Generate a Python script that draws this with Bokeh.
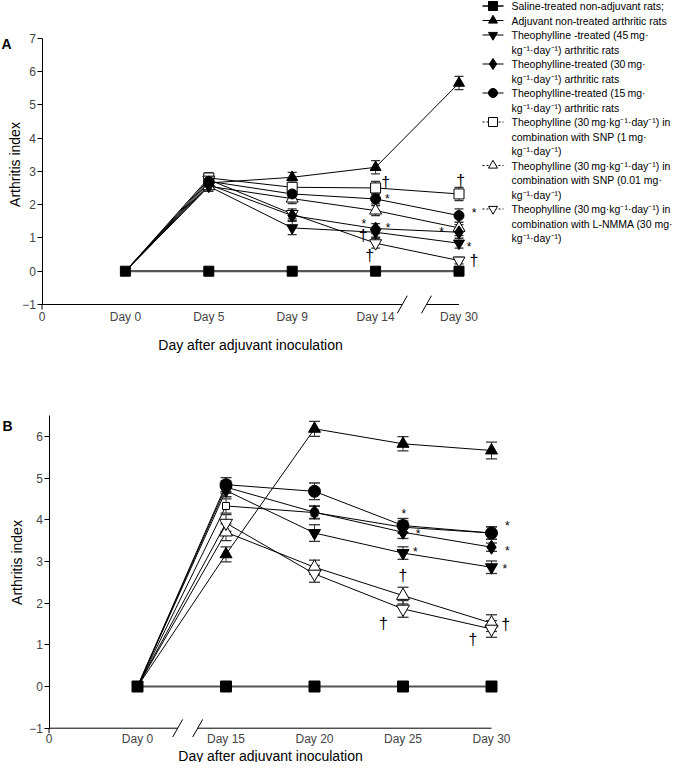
import math
from bokeh.plotting import figure
from bokeh.models import Range1d, FixedTicker
from bokeh.layouts import column
from bokeh.embed import file_html
from bokeh.resources import INLINE
from bokeh.core.properties import value

FONT = "Liberation Sans"

# ---------------- data: panel A ----------------
days_A = ["Day 0", "Day 5", "Day 9", "Day 14", "Day 30"]
saline_A = [0, 0, 0, 0, 0]
adjuvant_A = [0, 2.65, 2.82, 3.12, 5.65]
theo45_A = [0, 2.55, 1.30, 1.17, 0.84]
theo30_A = [0, 2.60, 1.67, 1.28, 1.17]
theo15_A = [0, 2.70, 2.32, 2.17, 1.67]
snp1_A = [0, 2.80, 2.52, 2.50, 2.32]
snp001_A = [0, 2.55, 2.18, 1.82, 1.30]
lnmma_A = [0, 2.75, 1.72, 0.84, 0.32]

se_saline_A = [0, 0, 0, 0, 0]
se_adjuvant_A = [0, 0.15, 0.15, 0.20, 0.20]
se_theo45_A = [0, 0.15, 0.20, 0.15, 0.15]
se_theo30_A = [0, 0.15, 0.15, 0.15, 0.10]
se_theo15_A = [0, 0.15, 0.15, 0.15, 0.20]
se_snp1_A = [0, 0.15, 0.15, 0.20, 0.20]
se_snp001_A = [0, 0.15, 0.15, 0.15, 0.10]
se_lnmma_A = [0, 0.15, 0.15, 0.15, 0.10]

stars_A_x = [4.14, 3.86, 4.15, 5.18, 4.79, 5.12]
stars_A_y = [2.27, 1.52, 1.40, 1.85, 1.28, 0.83]
daggers_A_x = [4.12, 3.85, 3.93, 5.02, 5.18]
daggers_A_y = [2.67, 1.07, 0.47, 2.72, 0.32]

# ---------------- data: panel B ----------------
days_B = ["Day 0", "Day 15", "Day 20", "Day 25", "Day 30"]
saline_B = [0, 0, 0, 0, 0]
adjuvant_B = [0, 3.17, 6.18, 5.82, 5.66]
theo45_B = [0, 4.70, 3.68, 3.20, 2.86]
theo30_B = [0, 4.78, 4.18, 3.70, 3.34]
theo15_B = [0, 4.84, 4.68, 3.86, 3.68]
snp1_B = [0, 4.33, 4.17, 3.82, 3.68]
snp001_B = [0, 3.70, 2.86, 2.18, 1.52]
lnmma_B = [0, 3.92, 2.70, 1.86, 1.38]

se_saline_B = [0, 0, 0, 0, 0]
se_adjuvant_B = [0, 0.18, 0.18, 0.17, 0.20]
se_theo45_B = [0, 0.15, 0.20, 0.15, 0.15]
se_theo30_B = [0, 0.15, 0.15, 0.15, 0.10]
se_theo15_B = [0, 0.17, 0.20, 0.17, 0.15]
se_snp1_B = [0, 0.17, 0.15, 0.15, 0.15]
se_snp001_B = [0, 0.20, 0.17, 0.20, 0.20]
se_lnmma_B = [0, 0.20, 0.20, 0.20, 0.20]

stars_B_x = [4.01, 4.17, 4.14, 5.18, 5.18, 5.15]
stars_B_y = [4.22, 3.72, 3.29, 3.91, 3.31, 2.88]
daggers_B_x = [4.00, 3.78, 5.16, 4.79]
daggers_B_y = [2.66, 1.52, 1.49, 1.13]

Y_TITLE = "Arthritis index"
X_TITLE = "Day after adjuvant inoculation"

# ---------------- legend text ----------------
legend_lines = [
    "Saline-treated non-adjuvant rats;",
    "Adjuvant non-treated arthritic rats",
    "Theophylline -treated (45\u2009mg\u00b7",
    "kg\u207b\u00b9\u00b7day\u207b\u00b9) arthritic rats",
    "Theophylline-treated (30\u2009mg\u00b7",
    "kg\u207b\u00b9\u00b7day\u207b\u00b9) arthritic rats",
    "Theophylline-treated (15\u2009mg\u00b7",
    "kg\u207b\u00b9\u00b7day\u207b\u00b9) arthritic rats",
    "Theophylline (30\u2009mg\u00b7kg\u207b\u00b9\u00b7day\u207b\u00b9) in",
    "combination with SNP (1\u2009mg\u00b7",
    "kg\u207b\u00b9\u00b7day\u207b\u00b9)",
    "Theophylline (30\u2009mg\u00b7kg\u207b\u00b9\u00b7day\u207b\u00b9) in",
    "combination with SNP (0.01 mg\u00b7",
    "kg\u207b\u00b9\u00b7day\u207b\u00b9)",
    "Theophylline (30\u2009mg\u00b7kg\u207b\u00b9\u00b7day\u207b\u00b9) in",
    "combination with L-NMMA (30 mg\u00b7",
    "kg\u207b\u00b9\u00b7day\u207b\u00b9)",
]
series_keys = ["saline", "adjuvant", "theo45", "theo30", "theo15", "snp1", "snp001", "lnmma"]
legend_first_line = [0, 1, 2, 4, 6, 8, 11, 14]

# ---------------- styles ----------------
STY = {
    "saline":   dict(marker="square", fill="black", lc="#555555", lw=2.2, ldash="solid"),
    "adjuvant": dict(marker="triangle", fill="black", lc="black", lw=1, ldash="solid"),
    "theo45":   dict(marker="inverted_triangle", fill="black", lc="black", lw=1, ldash="solid"),
    "theo30":   dict(marker="diamond", fill="black", lc="black", lw=1, ldash="solid"),
    "theo15":   dict(marker="circle", fill="black", lc="black", lw=1, ldash="solid"),
    "snp1":     dict(marker="square", fill="white", lc="black", lw=1, ldash="2 2"),
    "snp001":   dict(marker="triangle", fill="white", lc="black", lw=1, ldash="2 2"),
    "lnmma":    dict(marker="inverted_triangle", fill="white", lc="black", lw=1, ldash="2 2"),
}
MARKER_ORDER = ["snp1", "snp001", "lnmma", "theo45", "theo30", "adjuvant", "theo15", "saline"]
SIZES_A = dict(saline=10, adjuvant=11, theo45=11, theo30=13, theo15=10, snp1=10, snp001=12, lnmma=12)
SIZES_B = dict(saline=11, adjuvant=12, theo45=12, theo30=14, theo15=12, snp1=7, snp001=13, lnmma=13)
ERR = "#333333"


def build_panel(letter, letter_xy, ytitle_xy, xtitle_xy, days, vals, errs, sizes, cap,
                stars, daggers, brk, W, H, ox, oy, kx, ky, y_top, lab_standoff):
    # frame fills the whole canvas; (ox, oy) is the canvas pixel of data (0, 0)
    x0, x1 = -ox / kx, (W - ox) / kx
    y0, y1 = (oy - H) / ky, oy / ky
    X = lambda px: (px - ox) / kx
    Y = lambda py: (oy - py) / ky
    p = figure(width=W, height=H, x_range=Range1d(x0, x1), y_range=Range1d(y0, y1),
               output_backend="svg", toolbar_location=None,
               min_border_left=0, min_border_right=0, min_border_top=0, min_border_bottom=0)
    p.outline_line_color = None
    p.grid.visible = False
    p.background_fill_color = "white"
    xs = list(range(1, len(days) + 1))

    for k in series_keys:
        st = STY[k]
        p.line(xs, vals[k], line_color=st["lc"], line_width=st["lw"])
    for k in series_keys:
        ex, lo, hi = [], [], []
        for x, v, e in zip(xs, vals[k], errs[k]):
            if e > 0:
                ex.append(x); lo.append(v - e); hi.append(v + e)
        if ex:
            p.segment(ex, lo, ex, hi, line_color=ERR, line_width=1)
            p.scatter(ex + ex, lo + hi, marker="dash", size=cap, line_color=ERR, line_width=1.3)
    for k in MARKER_ORDER:
        st = STY[k]
        # at Day 0 every group is 0 and only the saline square shows
        mx = xs if k == "saline" else xs[1:]
        my = vals[k] if k == "saline" else vals[k][1:]
        p.scatter(mx, my, marker=st["marker"], size=sizes[k], fill_color=st["fill"],
                  line_color="black", line_width=1)

    p.text(stars[0], stars[1], text=["*"] * len(stars[0]), text_font=value(FONT),
           text_font_size="12px", text_align="center", text_baseline="middle", y_offset=3,
           text_color="black")
    p.text(daggers[0], daggers[1], text=["\u2020"] * len(daggers[0]), text_font=value(FONT),
           text_font_size="16px", text_align="center", text_baseline="middle", text_color="black")

    # x axis line drawn by hand: it has a break between two slashes
    b1, b2 = brk
    dx, dy = 5.0 / kx, 8.8 / ky
    p.segment([0, b2, b1 - dx, b2 - dx, 0], [-1, -1, -1 - dy, -1 - dy, -1],
              [b1, xs[-1], b1 + dx, b2 + dx, 0], [-1, -1, -1 + dy, -1 + dy, -1 - 5.0 / ky],
              line_color="black", line_width=1)

    # panel letter and axis titles
    p.text([X(letter_xy[0])], [Y(letter_xy[1])], text=[letter], text_font=value(FONT),
           text_font_size="14px", text_font_style="bold", text_align="left",
           text_baseline="alphabetic", text_color="black")
    p.text([X(ytitle_xy[0])], [Y(ytitle_xy[1])], text=[Y_TITLE], text_font=value(FONT),
           text_font_size="14px", text_align="center", text_baseline="alphabetic",
           angle=math.pi / 2, text_color="black")
    p.text([X(xtitle_xy[0])], [Y(xtitle_xy[1])], text=[X_TITLE], text_font=value(FONT),
           text_font_size="14px", text_align="center", text_baseline="alphabetic",
           text_color="black")

    # axes (ticks and tick labels)
    yax = p.yaxis[0]
    yax.fixed_location = 0
    yax.bounds = (-1, y_top)
    yax.ticker = FixedTicker(ticks=list(range(-1, int(y_top) + 1)))
    yax.major_label_text_font = FONT
    yax.major_label_text_font_size = "12px"
    yax.major_label_standoff = 1
    yax.major_tick_out = 5
    yax.major_tick_in = 0
    yax.minor_tick_line_color = None
    yax.axis_line_color = "black"
    yax.major_tick_line_color = "black"

    xax = p.xaxis[0]
    xax.fixed_location = -1
    xax.bounds = (0, xs[-1])
    xax.ticker = FixedTicker(ticks=[0] + xs)
    labels = {0: "0"}
    for x, d in zip(xs, days):
        labels[x] = d
    xax.major_label_overrides = labels
    xax.major_label_text_font = FONT
    xax.major_label_text_font_size = "12px"
    xax.major_label_standoff = lab_standoff
    xax.major_tick_out = 0
    xax.major_tick_in = 0
    xax.major_tick_line_color = None
    xax.minor_tick_line_color = None
    xax.axis_line_color = None
    return p, X, Y


vals_A = dict(saline=saline_A, adjuvant=adjuvant_A, theo45=theo45_A, theo30=theo30_A,
              theo15=theo15_A, snp1=snp1_A, snp001=snp001_A, lnmma=lnmma_A)
errs_A = dict(saline=se_saline_A, adjuvant=se_adjuvant_A, theo45=se_theo45_A, theo30=se_theo30_A,
              theo15=se_theo15_A, snp1=se_snp1_A, snp001=se_snp001_A, lnmma=se_lnmma_A)
vals_B = dict(saline=saline_B, adjuvant=adjuvant_B, theo45=theo45_B, theo30=theo30_B,
              theo15=theo15_B, snp1=snp1_B, snp001=snp001_B, lnmma=lnmma_B)
errs_B = dict(saline=se_saline_B, adjuvant=se_adjuvant_B, theo45=se_theo45_B, theo30=se_theo30_B,
              theo15=se_theo15_B, snp1=se_snp1_B, snp001=se_snp001_B, lnmma=se_lnmma_B)

W = 675
HA, HB = 388, 374

pA, XA, YA = build_panel("A", (1, 43), (14, 164), (250, 344), days_A, vals_A, errs_A, SIZES_A, 9,
                         (stars_A_x, stars_A_y), (daggers_A_x, daggers_A_y), (4.32, 4.61),
                         W=W, H=HA, ox=41.5, oy=270.7, kx=83.4, ky=33.3, y_top=7, lab_standoff=5)

pB, XB, YB = build_panel("B", (2, 425 - HA), (16.5, 562 - HA), (270, 755 - HA), days_B, vals_B,
                         errs_B, SIZES_B, 11,
                         (stars_B_x, stars_B_y), (daggers_B_x, daggers_B_y), (1.454, 1.68),
                         W=W, H=HB, ox=48.5, oy=686 - HA, kx=88.5, ky=41.7, y_top=6.5,
                         lab_standoff=4)

# ---------------- legend, drawn in panel A at pixel positions ----------------
LEG_SYM_X0, LEG_SYM_X1, LEG_MARK_X, LEG_TEXT_X = 482, 503, 492.5, 511
line_y = [5.5 + i * 14.5 for i in range(len(legend_lines))]
pA.text([XA(LEG_TEXT_X)] * len(legend_lines), [YA(v) for v in line_y], text=legend_lines,
        text_font=value(FONT), text_font_size="10.5px", text_baseline="middle",
        text_align="left", text_color="black")
for k, li in zip(series_keys, legend_first_line):
    st = STY[k]
    yy = YA(line_y[li])
    pA.line([XA(LEG_SYM_X0), XA(LEG_SYM_X1)], [yy, yy], line_color="black",
            line_width=1.3 if k == "saline" else 1, line_dash=st["ldash"])
    pA.scatter([XA(LEG_MARK_X)], [yy], marker=st["marker"], size=9 if k != "theo30" else 11,
               fill_color=st["fill"], line_color="black", line_width=1)

layout = column(pA, pB)

with open("out.html", "w") as f:
    f.write(file_html(layout, INLINE))
